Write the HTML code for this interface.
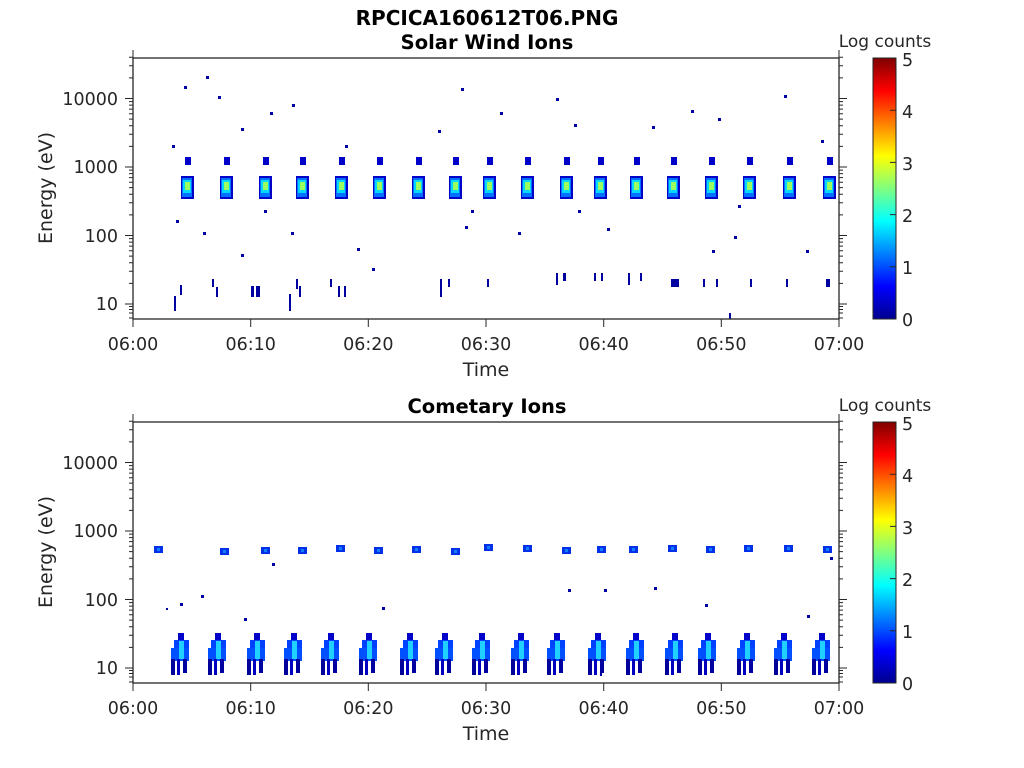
<!DOCTYPE html><html><head><style>body{margin:0;background:#fff}svg{display:block}text{font-family:"DejaVu Sans","Liberation Sans",sans-serif;fill:#262626}</style></head><body>
<svg width="1024" height="768" xmlns="http://www.w3.org/2000/svg">
<defs>
<linearGradient id="jet" x1="0" y1="1" x2="0" y2="0">
<stop offset="0" stop-color="#00008f"/><stop offset="0.125" stop-color="#0000ff"/><stop offset="0.375" stop-color="#00ffff"/><stop offset="0.625" stop-color="#ffff00"/><stop offset="0.875" stop-color="#ff0000"/><stop offset="1" stop-color="#800000"/></linearGradient>
<g id="ax">
<rect x="133" y="58" width="706" height="261" fill="none" stroke="#262626" stroke-width="1.3"/>
<path d="M133 50V58M839 50V58" stroke="#262626"/>
<path stroke="#262626" stroke-width="1" d="M125 304H133M125 235.5H133M125 167H133M125 98.5H133M839 304H847M839 235.5H847M839 167H847M839 98.5H847
M129 318H133M129 313H133M129 309.5H133M129 306.5H133M129 283.4H133M129 271.3H133M129 262.8H133M129 256.1H133M129 250.7H133M129 246.1H133M129 242.1H133M129 238.6H133
M129 214.9H133M129 202.8H133M129 194.3H133M129 187.6H133M129 182.2H133M129 177.6H133M129 173.6H133M129 170.1H133
M129 146.4H133M129 134.3H133M129 125.8H133M129 119.1H133M129 113.7H133M129 109.1H133M129 105.1H133M129 101.6H133
M129 77.9H133M129 65.8H133M129 57.3H133
M839 318H843M839 313H843M839 309.5H843M839 306.5H843M839 283.4H843M839 271.3H843M839 262.8H843M839 256.1H843M839 250.7H843M839 246.1H843M839 242.1H843M839 238.6H843
M839 214.9H843M839 202.8H843M839 194.3H843M839 187.6H843M839 182.2H843M839 177.6H843M839 173.6H843M839 170.1H843
M839 146.4H843M839 134.3H843M839 125.8H843M839 119.1H843M839 113.7H843M839 109.1H843M839 105.1H843M839 101.6H843
M839 77.9H843M839 65.8H843M839 57.3H843
M133 319V327M250.7 319V327M368.3 319V327M486 319V327M603.7 319V327M721.3 319V327M839 319V327"/>
<g font-size="17.5" text-anchor="end"><text x="118" y="310">10</text><text x="118" y="242">100</text><text x="118" y="173">1000</text><text x="118" y="105">10000</text></g>
<g font-size="17.5" text-anchor="middle"><text x="133" y="350">06:00</text><text x="250.7" y="350">06:10</text><text x="368.3" y="350">06:20</text><text x="486" y="350">06:30</text><text x="603.7" y="350">06:40</text><text x="721.3" y="350">06:50</text><text x="839" y="350">07:00</text>
<text x="486" y="376" font-size="19">Time</text></g>
<text transform="translate(52 188) rotate(-90)" font-size="19" text-anchor="middle">Energy (eV)</text>
<rect x="873" y="58" width="23" height="261" fill="url(#jet)" stroke="#262626"/>
<path stroke="#262626" d="M890 319H896M890 266.8H896M890 214.6H896M890 162.4H896M890 110.2H896M890 58H896"/>
<g font-size="17.5"><text x="902" y="326">0</text><text x="902" y="274">1</text><text x="902" y="222">2</text><text x="902" y="170">3</text><text x="902" y="118">4</text><text x="902" y="66">5</text></g>
<text x="885" y="47" font-size="17" text-anchor="middle">Log counts</text>
</g>
<g id="sw">
<rect x="-6" y="0" width="13" height="23" fill="#0000c8"/>
<rect x="-5" y="2" width="10" height="19" fill="#0070ff"/>
<rect x="-4" y="4" width="8" height="13" fill="#00d8ff"/>
<rect x="-2" y="6" width="5" height="8" fill="#9cff60"/>
<rect x="-2" y="-19" width="6" height="8" fill="#0000c8"/>
</g>
<g id="ci">
<rect x="7" y="0" width="6" height="8" fill="#0000c8"/>
<rect x="3" y="7" width="15" height="10" fill="#0040ff"/>
<rect x="0" y="15" width="18" height="13" fill="#0050ff"/>
<rect x="8" y="8" width="5" height="18" fill="#20d0ff"/>
<rect x="0" y="26" width="4" height="16" fill="#00009a"/><rect x="6" y="26" width="3" height="16" fill="#0000c0"/><rect x="12" y="26" width="4" height="14" fill="#0000a0"/>
</g>
<g id="cb"><rect x="-4" y="0" width="9" height="7" fill="#0030e8"/><rect x="-1" y="2" width="3" height="3" fill="#1080ff"/></g>
</defs>
<text x="487" y="25" font-size="20" font-weight="bold" text-anchor="middle" style="fill:#000">RPCICA160612T06.PNG</text>
<text x="487" y="49" font-size="19.5" font-weight="bold" text-anchor="middle" style="fill:#000">Solar Wind Ions</text>
<text x="487" y="413" font-size="19.5" font-weight="bold" text-anchor="middle" style="fill:#000">Cometary Ions</text>
<g fill="#0000a0">
<use href="#sw" x="187" y="176"/><use href="#sw" x="226" y="176"/><use href="#sw" x="265" y="176"/><use href="#sw" x="302" y="176"/><use href="#sw" x="341" y="176"/><use href="#sw" x="379" y="176"/><use href="#sw" x="418" y="176"/><use href="#sw" x="455" y="176"/><use href="#sw" x="489" y="176"/><use href="#sw" x="527" y="176"/><use href="#sw" x="566" y="176"/><use href="#sw" x="600" y="176"/><use href="#sw" x="636" y="176"/><use href="#sw" x="673" y="176"/><use href="#sw" x="711" y="176"/><use href="#sw" x="749" y="176"/><use href="#sw" x="789" y="176"/><use href="#sw" x="829" y="176"/>
<rect x="174" y="296" width="2" height="15"/><rect x="180" y="285" width="2" height="10"/><rect x="212" y="279" width="2" height="8"/><rect x="216" y="287" width="2" height="10"/><rect x="251" y="286" width="3" height="11"/><rect x="256" y="286" width="4" height="11"/><rect x="289" y="294" width="2" height="17"/><rect x="296" y="279" width="2" height="10"/><rect x="299" y="286" width="2" height="11"/><rect x="338" y="286" width="2" height="11"/><rect x="344" y="286" width="2" height="11"/><rect x="330" y="279" width="2" height="8"/><rect x="440" y="279" width="2" height="18"/><rect x="448" y="279" width="2" height="8"/><rect x="487" y="279" width="2" height="8"/><rect x="556" y="273" width="2" height="12"/><rect x="563" y="273" width="3" height="8"/><rect x="594" y="273" width="2" height="8"/><rect x="601" y="273" width="2" height="8"/><rect x="628" y="273" width="2" height="12"/><rect x="640" y="273" width="2" height="8"/><rect x="671" y="279" width="8" height="8"/><rect x="703" y="279" width="2" height="8"/><rect x="716" y="279" width="2" height="8"/><rect x="750" y="279" width="2" height="8"/><rect x="786" y="279" width="2" height="8"/><rect x="826" y="279" width="4" height="8"/><rect x="729" y="313" width="2" height="6"/>
<rect x="184" y="86" width="3" height="3"/><rect x="206" y="76" width="3" height="3"/><rect x="218" y="96" width="3" height="3"/><rect x="270" y="112" width="3" height="3"/><rect x="292" y="104" width="3" height="3"/><rect x="461" y="88" width="3" height="3"/><rect x="556" y="98" width="3" height="3"/><rect x="784" y="95" width="3" height="3"/><rect x="500" y="112" width="3" height="3"/><rect x="691" y="110" width="3" height="3"/><rect x="718" y="118" width="3" height="3"/><rect x="241" y="128" width="3" height="3"/><rect x="438" y="130" width="3" height="3"/><rect x="574" y="124" width="3" height="3"/><rect x="652" y="126" width="3" height="3"/><rect x="172" y="145" width="3" height="3"/><rect x="821" y="140" width="3" height="3"/><rect x="345" y="145" width="3" height="3"/><rect x="176" y="220" width="3" height="3"/><rect x="203" y="232" width="3" height="3"/><rect x="241" y="254" width="3" height="3"/><rect x="291" y="232" width="3" height="3"/><rect x="357" y="248" width="3" height="3"/><rect x="465" y="226" width="3" height="3"/><rect x="518" y="232" width="3" height="3"/><rect x="607" y="228" width="3" height="3"/><rect x="712" y="250" width="3" height="3"/><rect x="734" y="236" width="3" height="3"/><rect x="806" y="250" width="3" height="3"/><rect x="372" y="268" width="3" height="3"/><rect x="471" y="210" width="3" height="3"/><rect x="578" y="210" width="3" height="3"/><rect x="738" y="205" width="3" height="3"/><rect x="264" y="210" width="3" height="3"/>
<use href="#cb" x="158" y="546"/><use href="#cb" x="224" y="548"/><use href="#cb" x="265" y="547"/><use href="#cb" x="302" y="547"/><use href="#cb" x="340" y="545"/><use href="#cb" x="378" y="547"/><use href="#cb" x="416" y="546"/><use href="#cb" x="455" y="548"/><use href="#cb" x="488" y="544"/><use href="#cb" x="527" y="545"/><use href="#cb" x="566" y="547"/><use href="#cb" x="601" y="546"/><use href="#cb" x="633" y="546"/><use href="#cb" x="672" y="545"/><use href="#cb" x="710" y="546"/><use href="#cb" x="748" y="545"/><use href="#cb" x="788" y="545"/><use href="#cb" x="827" y="546"/>
<use href="#ci" x="171" y="633"/><use href="#ci" x="208" y="633"/><use href="#ci" x="247" y="633"/><use href="#ci" x="284" y="633"/><use href="#ci" x="321" y="633"/><use href="#ci" x="359" y="633"/><use href="#ci" x="400" y="633"/><use href="#ci" x="435" y="633"/><use href="#ci" x="472" y="633"/><use href="#ci" x="511" y="633"/><use href="#ci" x="547" y="633"/><use href="#ci" x="588" y="633"/><use href="#ci" x="626" y="633"/><use href="#ci" x="665" y="633"/><use href="#ci" x="698" y="633"/><use href="#ci" x="737" y="633"/><use href="#ci" x="774" y="633"/><use href="#ci" x="812" y="633"/>
<rect x="166" y="608" width="2" height="2"/><rect x="180" y="603" width="3" height="3"/><rect x="201" y="595" width="3" height="3"/><rect x="272" y="563" width="3" height="3"/><rect x="244" y="618" width="3" height="3"/><rect x="382" y="607" width="3" height="3"/><rect x="568" y="589" width="3" height="3"/><rect x="604" y="589" width="3" height="3"/><rect x="654" y="587" width="3" height="3"/><rect x="705" y="604" width="3" height="3"/><rect x="807" y="615" width="3" height="3"/><rect x="830" y="557" width="3" height="3"/><rect x="600" y="660" width="2" height="16"/>
</g>
<use href="#ax"/>
<use href="#ax" y="364"/>
</svg>
</body></html>
